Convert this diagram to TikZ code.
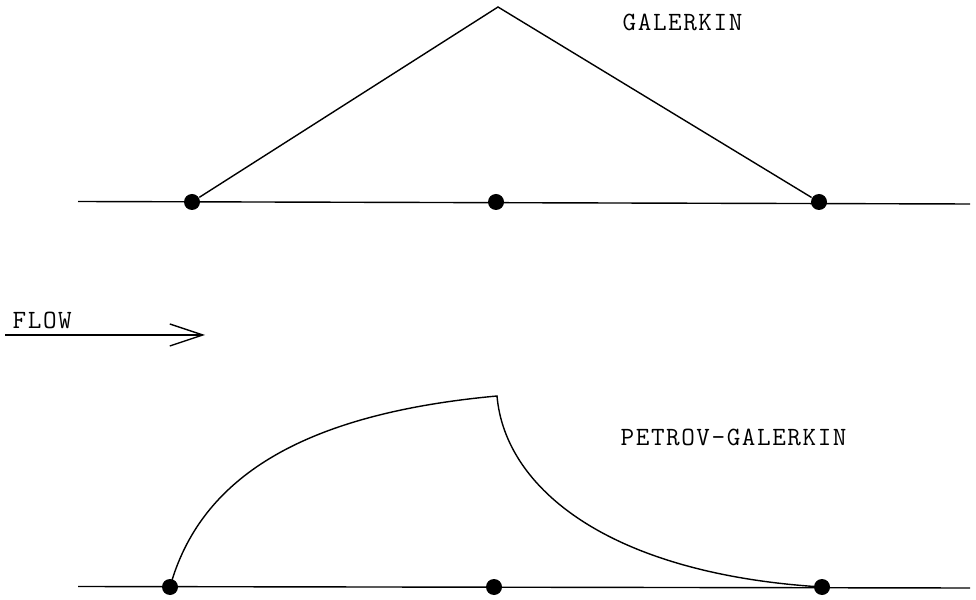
\documentclass[tikz,border=0pt]{standalone}
\usepackage{fontspec}
\newfontfamily\typer{Latin Modern Mono}[LetterSpace=6]
\usetikzlibrary{arrows.meta, positioning}

\begin{document}
\begin{tikzpicture}[line width=0.8pt,
    dot/.style={circle, fill=black, inner sep=0pt, minimum size=0.32cm},
    label/.style={font=\fontsize{15}{18}\selectfont\typer, anchor=west, inner sep=0pt}]

\useasboundingbox (0,0) rectangle (19.52,11.98);

% === Galerkin ===
\node[dot] (g1) at (3.84,7.94) {};
\node[dot] (g2) at (9.92,7.94) {};
\node[dot] (g3) at (16.38,7.94) {};
\coordinate (gl) at (1.56,7.95);
\coordinate (gr) at (19.40,7.90);
\coordinate (gtop) at (9.96,11.84);
\draw (gl) -- (gr);
\draw (g1) -- (gtop) -- (g3);
\node[label] (gtext) at (12.44,11.54) {GALERKIN};

% === Flow arrow ===
\coordinate (fa) at (0.10,5.28);
\coordinate (fb) at (4.10,5.28);
\draw[-{Straight Barb[length=0.66cm, width=0.44cm]}] (fa) -- (fb);
\node[label] (ftext) at (0.24,5.58) {FLOW};

% === Petrov-Galerkin ===
\node[dot] (p1) at (3.40,0.24) {};
\node[dot] (p2) at (9.88,0.24) {};
\node[dot] (p3) at (16.44,0.24) {};
\coordinate (pl) at (1.56,0.25);
\coordinate (pr) at (19.40,0.22);
\coordinate (ptop) at (9.94,4.06);
\draw (pl) -- (pr);
\draw (p1.center) .. controls (4.0,2.4) and (6.0,3.7) .. (ptop)
      .. controls (10.1,2.2) and (12.2,0.5) .. (p3.center);
\node[label] (ptext) at (12.40,3.24) {PETROV-GALERKIN};

\end{tikzpicture}
\end{document}
